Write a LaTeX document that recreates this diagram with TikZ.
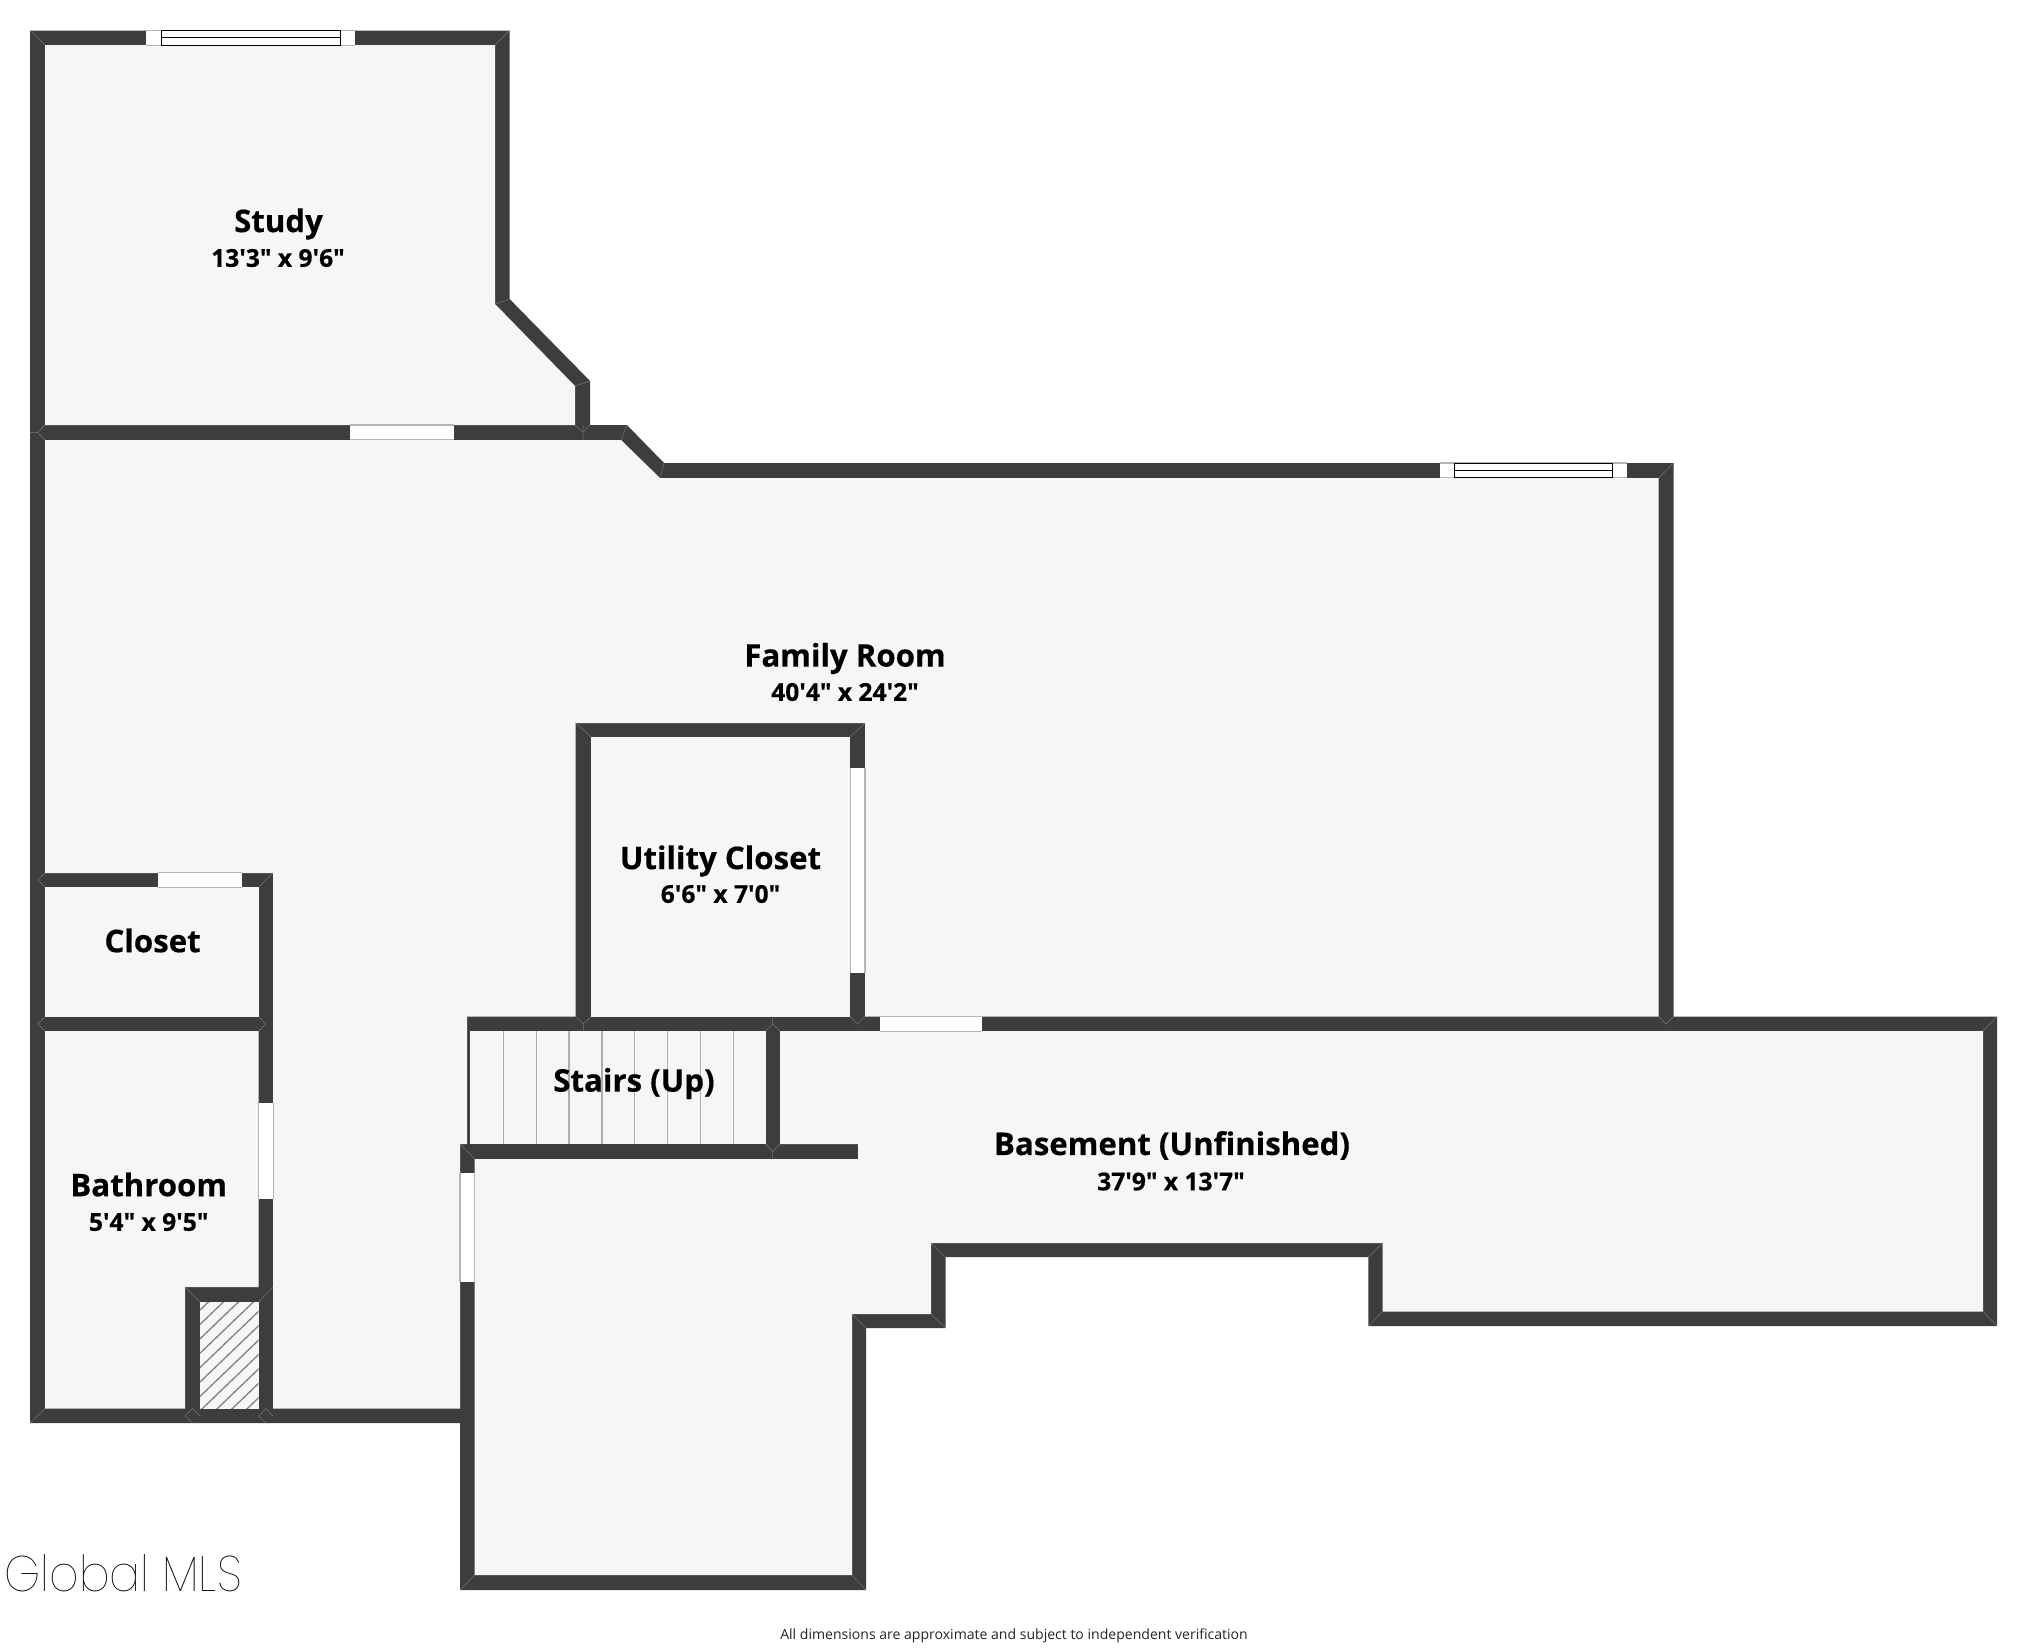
\documentclass[tikz,border=0pt]{standalone}
\usepackage{fontspec}
\newfontfamily\labfont{Open Sans}[BoldFeatures={FakeBold=0.4}]
\newfontfamily\footfont{Open Sans}
\newfontfamily\logofont{Poppins}[UprightFont=* Thin]
\definecolor{wallc}{HTML}{3D3D3D}
\definecolor{floorc}{HTML}{F6F6F6}
\definecolor{edgec}{HTML}{B5B5B5}
\definecolor{seamc}{HTML}{777777}
\tikzset{
  wallfill/.style={fill=wallc,draw=none},
  floorfill/.style={fill=floorc,draw=none},
  roomname/.style={font=\labfont\bfseries\fontsize{31.2}{36}\selectfont,text=black,inner sep=0pt},
  roomdim/.style={font=\labfont\bfseries\fontsize{24.6}{28}\selectfont,text=black,inner sep=0pt},
  doorrect/.style={fill=white,draw=none},
  dooredge/.style={draw=edgec,line width=1.2pt},
  seam/.style={draw=seamc,line width=0.5pt},
  treadline/.style={draw=black!32,line width=1.2pt},
  hatchline/.style={draw=black!50,line width=1.3pt},
}
\newcommand{\hdoor}[3]{% x1,x2,ytop (height 15)
  \fill[doorrect] (#1,#3) rectangle (#2,#3+14.6);
  \draw[dooredge] (#1,#3) -- (#2,#3) (#1,#3+14.6) -- (#2,#3+14.6);}
\newcommand{\vdoor}[3]{% y1,y2,xleft
  \fill[doorrect] (#3,#1) rectangle (#3+14.6,#2);
  \draw[dooredge] (#3,#1) -- (#3,#2) (#3+14.6,#1) -- (#3+14.6,#2);}
\newcommand{\hwindow}[5]{% x1,xi1,xi2,x2,ytop
  \hdoor{#1}{#4}{#5}
  \draw[black,line width=1pt,fill=white] (#2,#5) rectangle (#3,#5+14.6);
  \draw[black,line width=1pt] (#2,#5+7.3) -- (#3,#5+7.3);}
\begin{document}
\begin{tikzpicture}[x=1pt,y=-1pt]
\useasboundingbox (0,0) rectangle (2028,1650);
\fill[white] (0,0) rectangle (2028,1650);
% outer silhouette
\fill[wallfill] (30,30.5) -- (509.6,30.5) -- (509.6,299) -- (590,381) -- (590,425) -- (627,425) -- (664,463) -- (1673.5,463) -- (1673.5,1016.5) -- (1997,1016.5) -- (1997,1326) -- (1368.4,1326) -- (1368.4,1257) -- (945.5,1257) -- (945.5,1328) -- (866,1328) -- (866,1590) -- (460,1590) -- (460,1423) -- (30,1423) -- cycle;
% rooms
\fill[floorfill] (45,45) -- (495,45) -- (495,304) -- (575,386) -- (575,425) -- (45,425) -- cycle; % study
\fill[floorfill] (45,440) -- (621,440) -- (660,478) -- (1658.7,478) -- (1658.7,1016.5) -- (865,1016.5) -- (865,723) -- (575.6,723) -- (575.6,1016.5) -- (467,1016.5) -- (467,1144) -- (460,1144) -- (460,1408.5) -- (273,1408.5) -- (273,873) -- (45,873) -- cycle; % family
\fill[floorfill] (591,737) -- (850,737) -- (850,1016.5) -- (591,1016.5) -- cycle; % utility
\fill[floorfill] (45,887) -- (258.7,887) -- (258.7,1016.7) -- (45,1016.7) -- cycle; % closet
\fill[floorfill] (45,1031) -- (258.7,1031) -- (258.7,1287) -- (185,1287) -- (185,1408.5) -- (45,1408.5) -- cycle; % bath
\fill[floorfill] (200,1302) -- (258.7,1302) -- (258.7,1408.5) -- (200,1408.5) -- cycle; % shaft
\fill[floorfill] (470.3,1031) -- (765.5,1031) -- (765.5,1144) -- (470.3,1144) -- cycle; % stairs
\fill[floorfill] (780,1031) -- (1983,1031) -- (1983,1311.5) -- (1382.6,1311.5) -- (1382.6,1243) -- (931,1243) -- (931,1314) -- (852,1314) -- (852,1575) -- (474.7,1575) -- (474.7,1159) -- (858,1159) -- (858,1144) -- (780,1144) -- cycle; % basement
% hatch
\begin{scope}
\clip (200,1302) rectangle (258.7,1408.5);
\foreach \k in {0,...,11} {
  \draw[hatchline] (200,1310+\k*14.4) -- (260,1310+\k*14.4-57.6);
}
\end{scope}
% treads
\foreach \k in {1,...,8} {
  \draw[treadline] (470.3+\k*32.9,1031) -- (470.3+\k*32.9,1144);
}
% openings
\hdoor{350.4}{453.6}{425}
\hdoor{158}{242}{872.8}
\hdoor{880}{982}{1016.5}
\vdoor{768}{973}{850.3}
\vdoor{1103}{1199}{258.7}
\vdoor{1173}{1282}{460}
\hwindow{146.4}{161.6}{340}{355}{30.5}
\hwindow{1440}{1454}{1612}{1627}{463}
% seams
\draw[seam] (30,30.5) -- (45,45) (509.6,30.5) -- (495,45) (1673.5,463) -- (1658.7,478)
 (495,304) -- (509.6,299) (575,386) -- (590,381) (583,425) -- (583,440)
 (1997,1016.5) -- (1983,1031) (1997,1326) -- (1983,1311.5) (1368.4,1326) -- (1382.6,1311.5)
 (1368.4,1257) -- (1382.6,1243) (945.5,1257) -- (931,1243) (945.5,1328) -- (931,1314)
 (866,1328) -- (852,1314) (866,1590) -- (852,1575) (460,1590) -- (474.7,1575)
 (460,1144) -- (474.7,1159) (30,1423) -- (45,1408.5) (627,425) -- (621,440) (664,463) -- (660,478)
 (185,1287) -- (200,1302) (266,1294.5) -- (258.7,1302) (266,1294.5) -- (273,1287)
 (192.5,1408.5) -- (185,1416) -- (192.5,1423) (192.5,1408.5) -- (200,1416) (266,1408.5) -- (258.7,1416) -- (266,1423) (266,1408.5) -- (273,1416)
 (772.7,1024) -- (765.5,1031) (772.7,1024) -- (780,1031) (772.7,1016.5) -- (772.7,1024)
 (772.7,1151.5) -- (765.5,1144) (772.7,1151.5) -- (780,1144) (772.7,1151.5) -- (772.7,1159)
 (583.3,1024) -- (575.6,1016.5) (583.3,1024) -- (591,1016.5) (583.3,1024) -- (583.3,1031)
 (857.6,1024) -- (850,1016.5) (857.6,1024) -- (865,1016.5)
 (1666,1024) -- (1658.7,1016.5) (1666,1024) -- (1673.5,1016.5)
 (37.5,1024) -- (45,1016.7) (37.5,1024) -- (45,1031) (265.8,1024) -- (258.7,1016.7) (265.8,1024) -- (258.7,1031)
 (37.5,880) -- (45,873) (37.5,880) -- (45,887) (265.8,880) -- (273,873) (265.8,880) -- (258.7,887)
 (37.5,432.5) -- (45,425) (37.5,432.5) -- (45,440) (30,432.5) -- (37.5,432.5)
 (583,432.5) -- (575,425) (583,432.5) -- (590,425)
 (575.6,723) -- (591,737) (865,723) -- (850,737);
% labels
\node[roomname] (lstudy) at (278.5,224) {Study};
\node[roomdim] (dstudy) at (278,258) {13'3" x 9'6"};
\node[roomname] (lfam) at (845,658.5) {Family Room};
\node[roomdim] (dfam) at (845,692) {40'4" x 24'2"};
\node[roomname] (lutil) at (720.5,861) {Utility Closet};
\node[roomdim] (dutil) at (720.5,894) {6'6" x 7'0"};
\node[roomname] (lclos) at (152.6,940.5) {Closet};
\node[roomname] (lbath) at (148.7,1184.5) {Bathroom};
\node[roomdim] (dbath) at (148.7,1222) {5'4" x 9'5"};
\node[roomname] (lstairs) at (634,1083.5) {Stairs (Up)};
\node[roomname] (lbase) at (1172,1145.5) {Basement (Unfinished)};
\node[roomdim] (dbase) at (1171,1181.5) {37'9" x 13'7"};
\node[inner sep=0pt,text=black!85,font=\footfont\fontsize{14.05}{17}\selectfont] (foot) at (1014,1635.5) {All dimensions are approximate and subject to independent verification};
\node[inner sep=0pt,text=black,font=\logofont\fontsize{50}{54}\selectfont,xscale=0.916] (logo) at (123,1573) {Global MLS};
\end{tikzpicture}
\end{document}
